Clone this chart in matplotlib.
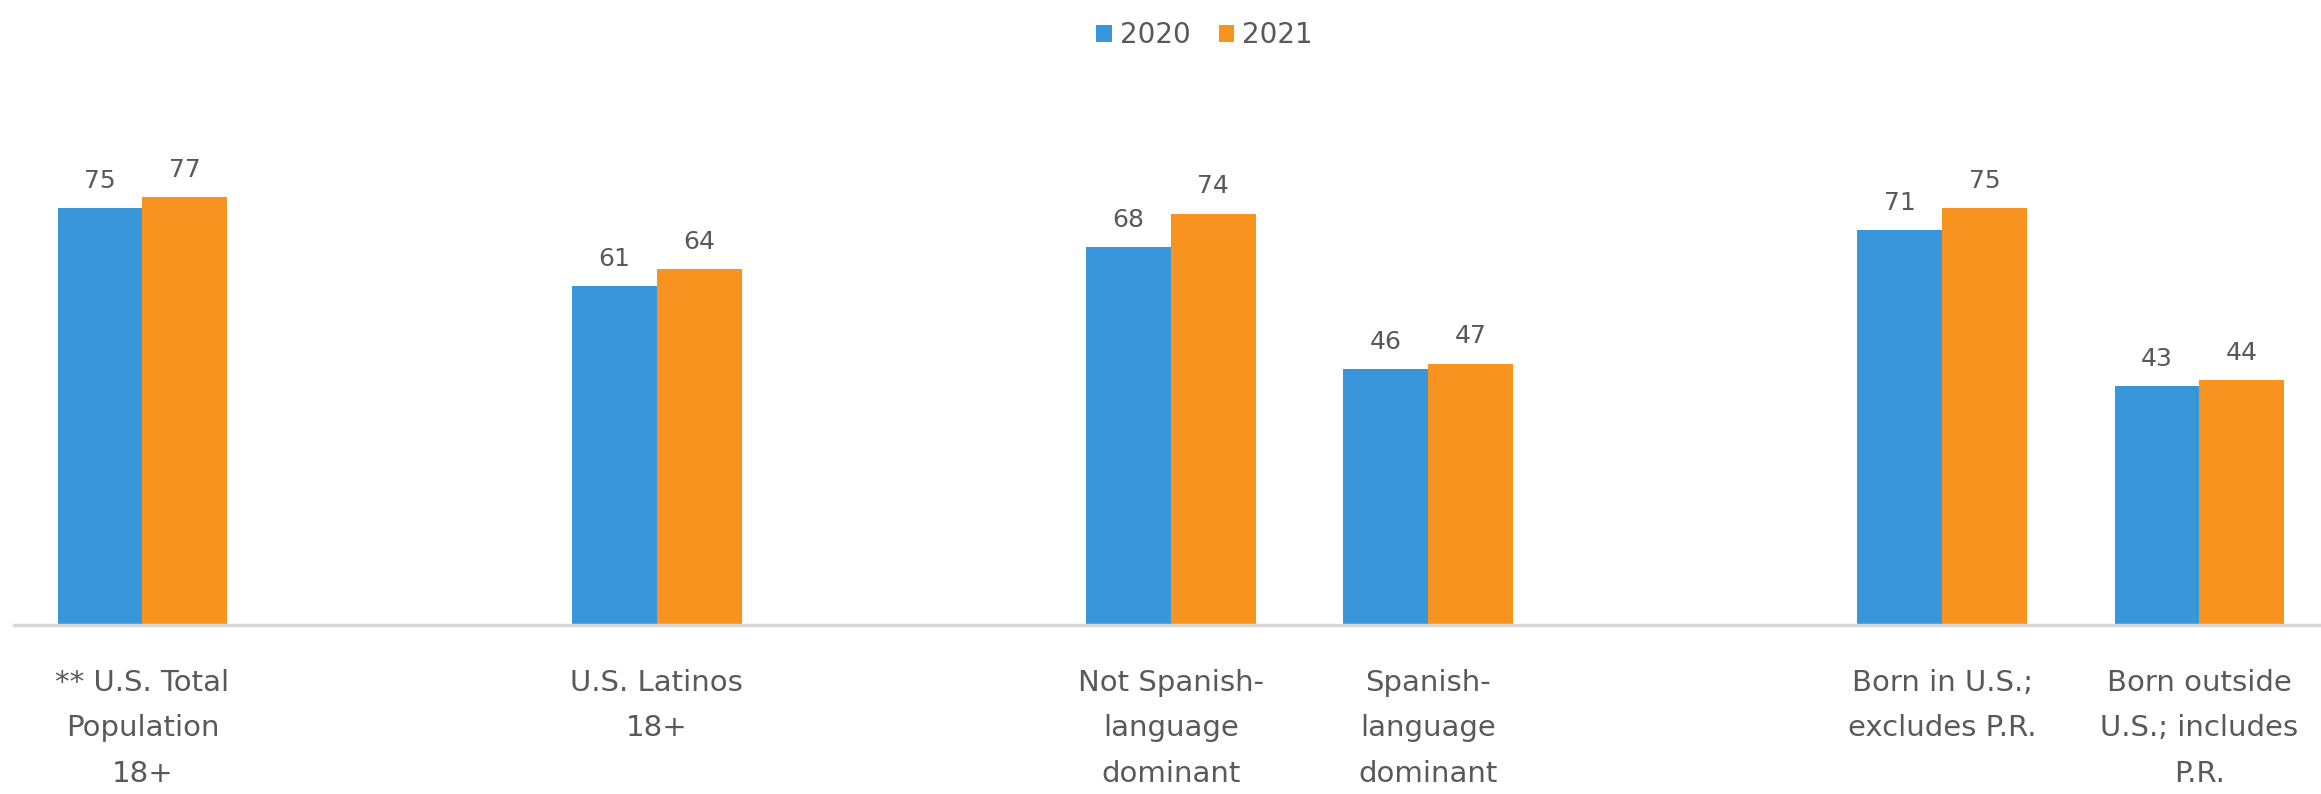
import matplotlib.pyplot as plt
import numpy as np

plt.rcParams['font.family'] = ['DejaVu Sans']

# slots in the chart; empty strings leave a gap between groups
categories = ["** U.S. Total\nPopulation\n18+", "", "U.S. Latinos\n18+", "",
              "Not Spanish-\nlanguage\ndominant", "Spanish-\nlanguage\ndominant", "",
              "Born in U.S.;\nexcludes P.R.", "Born outside\nU.S.; includes\nP.R."]
vals_2020 = [75, None, 61, None, 68, 46, None, 71, 43]
vals_2021 = [77, None, 64, None, 74, 47, None, 75, 44]

blue = "#3A96DB"
orange = "#F7931E"
grey = "#595959"

fig = plt.figure(figsize=(23.21, 7.94), dpi=100)
ax = fig.add_axes([0.006, 0.213, 0.997, 0.70])

x = np.arange(len(categories))
w = 0.33
idx = [i for i, v in enumerate(vals_2020) if v is not None]
v20 = [vals_2020[i] for i in idx]
v21 = [vals_2021[i] for i in idx]
xs = x[idx]

b1 = ax.bar(xs - w / 2, v20, w, color=blue, label="2020")
b2 = ax.bar(xs + w / 2, v21, w, color=orange, label="2021")

for bars in (b1, b2):
    ax.bar_label(bars, padding=11, fontsize=18, color=grey)

ax.set_xlim(-0.5, len(categories) - 0.5)
ax.set_ylim(0, 100)
ax.set_xticks(x)
ax.set_xticklabels(categories, fontsize=21, color=grey, linespacing=1.78)
ax.tick_params(axis='x', length=0, pad=32)
ax.set_yticks([])
for s in ["top", "right", "left"]:
    ax.spines[s].set_visible(False)
ax.spines["bottom"].set_color("#D9D9D9")
ax.spines["bottom"].set_linewidth(2.5)

fig.legend(handles=[b1, b2], loc="upper center", bbox_to_anchor=(0.519, 1.005),
           ncol=2, frameon=False, fontsize=20, labelcolor=grey,
           handlelength=0.55, handleheight=0.55, handletextpad=0.3, columnspacing=1.0)

fig.savefig("out.png", dpi=100)
